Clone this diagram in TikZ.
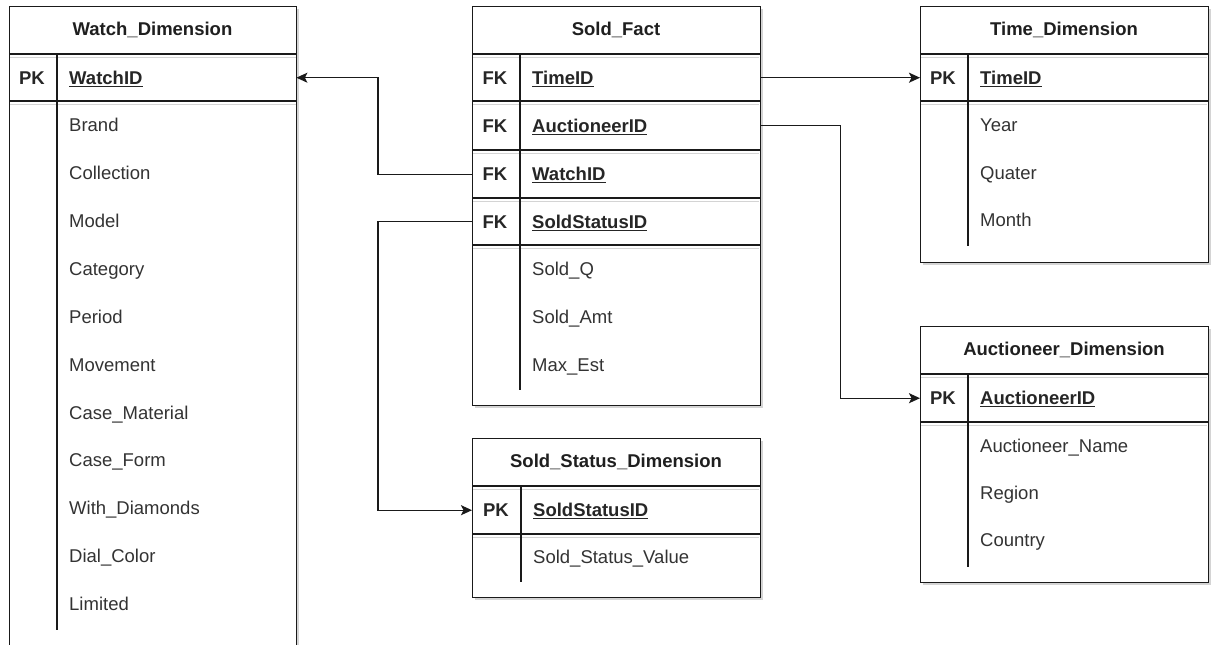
\documentclass[tikz,border=0pt]{standalone}
\usepackage{fontspec}
\setmainfont{Liberation Sans}
\usetikzlibrary{arrows.meta}
\definecolor{ln}{HTML}{1A1A1A}
\definecolor{tx}{HTML}{333333}
\definecolor{sh}{HTML}{D4D4D4}
\newcommand\keyul[1]{\setbox0\hbox{#1}\rlap{\rule[-2.6pt]{\wd0}{1.2pt}}\box0}
\newcommand\fs{\fontsize{18.5}{21}\selectfont}
\begin{document}
\begin{tikzpicture}[x=1pt,y=-1pt,
  frame/.style={draw=ln, line width=1.3pt, fill=white, anchor=north west, inner sep=0pt, rectangle},
  shadowbox/.style={fill=sh, draw=none, anchor=north west, inner sep=0pt, rectangle},
  rowarea/.style={draw=none, anchor=north west, inner sep=0pt, rectangle},
  sep/.style={draw=ln, line width=1.3pt},
  sepsh/.style={draw=sh, line width=1pt},
  title/.style={font=\fs\bfseries, text=black!88, anchor=center, inner sep=0pt},
  keylbl/.style={font=\fs\bfseries, text=black!85, anchor=base, inner sep=0pt},
  keyname/.style={font=\fs\bfseries, text=black!85, anchor=base west, inner sep=0pt},
  attr/.style={font=\fs, text=tx, anchor=base west, inner sep=0pt},
  link/.style={draw=ln, line width=1.4pt, -{Stealth[length=11pt,width=10pt,inset=2.5pt]}}
]
\useasboundingbox (0,0) rectangle (1216,645);
\clip (0,0) rectangle (1216,645);
\fill[white] (0,0) rectangle (1216,645);

% ---------------- Watch_Dimension ----------------
\node[shadowbox, minimum width=287pt, minimum height=700pt] (wd-sh) at (12,9) {};
\node[frame, minimum width=287pt, minimum height=700pt] (wd) at (9,6) {};
\node[rowarea, minimum width=287pt, minimum height=47pt] (wd-pk) at (9,54) {};
\node[title] (wd-t) at (152.5,30) {Watch\_Dimension};
\draw[sepsh] (10,57) -- (296,57);
\draw[sepsh] (10,104) -- (296,104);
\draw[sep] (9,54) -- (296,54);
\draw[sep] (9,101) -- (296,101);
\draw[sep] (57,54) -- (57,630);
\node[keylbl] (wd-k) at (32,84.6) {PK};
\node[keyname] (wd-id) at (69,84.6) {\keyul{WatchID}};
\foreach \t [count=\i from 0] in {Brand,Collection,Model,Category,Period,Movement,Case\_Material,Case\_Form,With\_Diamonds,Dial\_Color,Limited}
  \node[attr] (wd-a\i) at (69,125+47.9*\i+6.6) {\t};

% ---------------- Sold_Fact ----------------
\node[shadowbox, minimum width=288pt, minimum height=399pt] (sf-sh) at (475,9) {};
\node[frame, minimum width=288pt, minimum height=399pt] (sf) at (472,6) {};
\node[title] (sf-t) at (616,30) {Sold\_Fact};
\node[rowarea, minimum width=288pt, minimum height=47pt] (sf-time) at (472,54) {};
\node[rowarea, minimum width=288pt, minimum height=49pt] (sf-auc) at (472,101) {};
\node[rowarea, minimum width=288pt, minimum height=48pt] (sf-watch) at (472,150) {};
\node[rowarea, minimum width=288pt, minimum height=47pt] (sf-stat) at (472,198) {};
\foreach \yy in {54,101,150,198,245} {
  \draw[sepsh] (473,\yy+3) -- (759,\yy+3);
  \draw[sep] (472,\yy) -- (760,\yy);
}
\draw[sep] (520,54) -- (520,390);
\node[keylbl] (sf-k1) at (495,78+6.6) {FK};
\node[keylbl] (sf-k2) at (495,126+6.6) {FK};
\node[keylbl] (sf-k3) at (495,174+6.6) {FK};
\node[keylbl] (sf-k4) at (495,222+6.6) {FK};
\node[keyname] (sf-n1) at (532,78+6.6) {\keyul{TimeID}};
\node[keyname] (sf-n2) at (532,126+6.6) {\keyul{AuctioneerID}};
\node[keyname] (sf-n3) at (532,174+6.6) {\keyul{WatchID}};
\node[keyname] (sf-n4) at (532,222+6.6) {\keyul{SoldStatusID}};
\node[attr] (sf-a1) at (532,269+6.6) {Sold\_Q};
\node[attr] (sf-a2) at (532,317+6.6) {Sold\_Amt};
\node[attr] (sf-a3) at (532,365+6.6) {Max\_Est};

% ---------------- Time_Dimension ----------------
\node[shadowbox, minimum width=288pt, minimum height=256pt] (td-sh) at (923,9) {};
\node[frame, minimum width=288pt, minimum height=256pt] (td) at (920,6) {};
\node[title] (td-t) at (1064,30) {Time\_Dimension};
\node[rowarea, minimum width=288pt, minimum height=47pt] (td-pk) at (920,54) {};
\draw[sepsh] (921,57) -- (1207,57);
\draw[sepsh] (921,104) -- (1207,104);
\draw[sep] (920,54) -- (1208,54);
\draw[sep] (920,101) -- (1208,101);
\draw[sep] (968,54) -- (968,246);
\node[keylbl] (td-k) at (943,78+6.6) {PK};
\node[keyname] (td-id) at (980,78+6.6) {\keyul{TimeID}};
\node[attr] (td-a1) at (980,125+6.6) {Year};
\node[attr] (td-a2) at (980,173+6.6) {Quater};
\node[attr] (td-a3) at (980,220+6.6) {Month};

% ---------------- Auctioneer_Dimension ----------------
\node[shadowbox, minimum width=288pt, minimum height=256pt] (ad-sh) at (923,329) {};
\node[frame, minimum width=288pt, minimum height=256pt] (ad) at (920,326) {};
\node[title] (ad-t) at (1064,350) {Auctioneer\_Dimension};
\node[rowarea, minimum width=288pt, minimum height=48pt] (ad-pk) at (920,374) {};
\draw[sepsh] (921,377) -- (1207,377);
\draw[sepsh] (921,425) -- (1207,425);
\draw[sep] (920,374) -- (1208,374);
\draw[sep] (920,422) -- (1208,422);
\draw[sep] (968,374) -- (968,567);
\node[keylbl] (ad-k) at (943,398+6.6) {PK};
\node[keyname] (ad-id) at (980,398+6.6) {\keyul{AuctioneerID}};
\node[attr] (ad-a1) at (980,446+6.6) {Auctioneer\_Name};
\node[attr] (ad-a2) at (980,493+6.6) {Region};
\node[attr] (ad-a3) at (980,540+6.6) {Country};

% ---------------- Sold_Status_Dimension ----------------
\node[shadowbox, minimum width=288pt, minimum height=159pt] (ss-sh) at (475,441) {};
\node[frame, minimum width=288pt, minimum height=159pt] (ss) at (472,438) {};
\node[title] (ss-t) at (616,462) {Sold\_Status\_Dimension};
\node[rowarea, minimum width=288pt, minimum height=48pt] (ss-pk) at (472,486) {};
\draw[sepsh] (473,489) -- (759,489);
\draw[sepsh] (473,537) -- (759,537);
\draw[sep] (472,486) -- (760,486);
\draw[sep] (472,534) -- (760,534);
\draw[sep] (521,486) -- (521,582);
\node[keylbl] (ss-k) at (496,510+6.6) {PK};
\node[keyname] (ss-id) at (533,510+6.6) {\keyul{SoldStatusID}};
\node[attr] (ss-a1) at (533,557+6.6) {Sold\_Status\_Value};

% ---------------- Connectors ----------------
\draw[link] (sf-watch.west) -- ++(-94,0) |- (wd-pk.east);
\draw[link] (sf-time.east) -- (td-pk.west);
\draw[link] (sf-auc.east) -- ++(80,0) |- (ad-pk.west);
\draw[link] (sf-stat.west) -- ++(-94,0) |- (ss-pk.west);
\end{tikzpicture}
\end{document}
